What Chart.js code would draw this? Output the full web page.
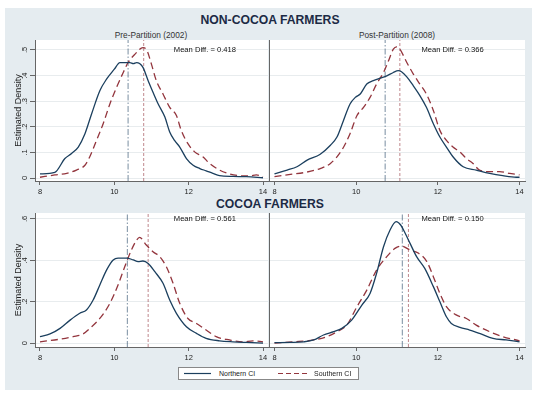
<!DOCTYPE html>
<html>
<head>
<meta charset="utf-8">
<title>Estimated density, Northern vs Southern CI</title>
<script src="https://cdn.jsdelivr.net/npm/chart.js@4.4.1/dist/chart.umd.min.js"></script>
<style>
html,body{margin:0;padding:0;background:#fff;}
body{position:relative;width:540px;height:395px;overflow:hidden;font-family:"Liberation Sans",Arial,sans-serif;color:#222;}
#bg{position:absolute;left:5px;top:8px;width:527px;height:382px;background:#e5ecf0;}
canvas{position:absolute;}
.ttl{position:absolute;left:0;width:540px;text-align:center;font-weight:bold;font-size:12.2px;color:#1c2a45;line-height:16px;}
.sub{position:absolute;width:200px;text-align:center;font-size:8.3px;color:#333;line-height:10px;}
#legend{position:absolute;left:178px;top:367px;width:179px;height:11px;border:1px solid #888;background:#fff;font-size:7px;color:#222;}
#legend span{position:absolute;top:1px;line-height:9px;color:#222;}
#legend svg{position:absolute;left:0;top:0;}
</style>
</head>
<body>
<div id="bg"></div>
<div class="ttl" style="top:12px">NON-COCOA FARMERS</div>
<div class="sub" style="left:51px;top:30px">Pre-Partition (2002)</div>
<div class="sub" style="left:297px;top:30px">Post-Partition (2008)</div>
<div class="ttl" style="top:196px">COCOA FARMERS</div>
<canvas id="c1" width="262" height="160" style="left:8px;top:40px"></canvas>
<canvas id="c2" width="270" height="160" style="left:264px;top:40px"></canvas>
<canvas id="c3" width="262" height="152" style="left:8px;top:213px"></canvas>
<canvas id="c4" width="270" height="152" style="left:264px;top:213px"></canvas>
<div id="legend"></div>
<script>
// axes
const xTicks=[8,10,12,14];
const xMin=7.866, xMax=14.134;
const yTicksNonCocoa=[0,.1,.2,.3,.4,.5];
const yTicksCocoa=[0,.2,.4,.6];
const yRangeNonCocoa=[-0.0117,0.539];
const yRangeCocoa=[-0.019,0.629];
const seriesNames=['Northern CI','Southern CI'];
const colNorth='#1b3f5e', colSouth='#93353d';

// non-cocoa, 2002
const ncPreNorthX=[8.0,8.4,8.67,8.85,9.03,9.21,9.39,9.61,9.79,10.0,10.15,10.42,10.51,10.6,10.68,10.77,10.91,11.04,11.18,11.36,11.49,11.62,11.76,11.94,12.12,12.3,12.47,12.65,12.83,13.19,13.55,14.0];
const ncPreNorthY=[0.016,0.022,0.076,0.096,0.121,0.173,0.251,0.341,0.386,0.425,0.451,0.451,0.447,0.451,0.447,0.432,0.38,0.335,0.289,0.238,0.18,0.147,0.121,0.076,0.05,0.037,0.028,0.018,0.009,0.006,0.005,0.001];
const ncPreSouthX=[8.0,8.4,8.72,8.98,9.21,9.34,9.52,9.7,9.88,10.06,10.24,10.37,10.55,10.77,10.86,11.0,11.13,11.31,11.49,11.67,11.8,11.98,12.16,12.38,12.56,12.83,13.1,13.37,13.64,13.82,14.0];
const ncPreSouthY=[0.003,0.012,0.018,0.031,0.05,0.083,0.147,0.212,0.289,0.354,0.412,0.451,0.483,0.509,0.503,0.444,0.38,0.328,0.276,0.244,0.186,0.134,0.102,0.083,0.057,0.031,0.016,0.009,0.008,0.012,0.005];
// non-cocoa, 2008
const ncPostNorthX=[8.0,8.31,8.55,8.8,9.12,9.37,9.53,9.69,9.85,9.98,10.1,10.26,10.42,10.59,10.75,10.91,11.03,11.11,11.24,11.4,11.56,11.72,11.89,12.05,12.21,12.37,12.62,12.94,13.27,13.59,13.92,14.0];
const ncPostNorthY=[0.016,0.031,0.044,0.07,0.093,0.128,0.16,0.225,0.289,0.315,0.328,0.367,0.38,0.39,0.399,0.412,0.419,0.415,0.395,0.36,0.322,0.276,0.212,0.16,0.121,0.083,0.044,0.031,0.018,0.009,0.003,0.003];
const ncPostSouthX=[8.0,8.39,8.72,9.12,9.37,9.65,9.85,10.02,10.18,10.34,10.5,10.67,10.79,10.91,10.99,11.07,11.24,11.4,11.56,11.72,11.89,12.05,12.21,12.37,12.54,12.7,12.86,13.02,13.27,13.51,13.76,14.0];
const ncPostSouthY=[0.005,0.014,0.021,0.037,0.057,0.109,0.173,0.244,0.276,0.315,0.367,0.412,0.457,0.503,0.512,0.503,0.451,0.406,0.367,0.328,0.264,0.186,0.147,0.121,0.102,0.076,0.057,0.031,0.025,0.025,0.018,0.012];
// cocoa, 2002
const cPreNorthX=[8.0,8.27,8.54,8.81,9.07,9.25,9.43,9.61,9.79,9.97,10.1,10.33,10.51,10.64,10.77,10.91,11.09,11.31,11.49,11.67,11.94,12.21,12.47,12.83,13.19,13.55,14.0];
const cPreNorthY=[0.031,0.044,0.071,0.111,0.144,0.16,0.208,0.281,0.353,0.402,0.411,0.411,0.402,0.394,0.397,0.385,0.345,0.289,0.208,0.144,0.079,0.047,0.023,0.011,0.006,0.003,0.0];
const cPreSouthX=[8.0,8.54,8.89,9.16,9.39,9.61,9.88,10.1,10.28,10.46,10.6,10.68,10.86,11.04,11.22,11.4,11.58,11.76,11.98,12.21,12.47,12.74,13.1,13.46,13.73,14.0];
const cPreSouthY=[0.006,0.019,0.031,0.044,0.079,0.119,0.192,0.281,0.369,0.45,0.498,0.511,0.474,0.442,0.418,0.369,0.289,0.192,0.119,0.095,0.063,0.031,0.015,0.006,0.011,0.006];
// cocoa, 2008
const cPostNorthX=[8.0,8.39,8.72,8.96,9.2,9.45,9.65,9.89,10.14,10.34,10.5,10.67,10.83,10.98,11.09,11.2,11.32,11.48,11.68,11.89,12.05,12.21,12.33,12.54,12.78,13.02,13.35,13.67,14.0];
const cPostNorthY=[0.002,0.003,0.006,0.015,0.039,0.055,0.071,0.111,0.184,0.24,0.337,0.466,0.547,0.587,0.571,0.531,0.482,0.418,0.361,0.273,0.2,0.127,0.095,0.076,0.063,0.047,0.023,0.015,0.006];
const cPostSouthX=[8.0,8.47,8.96,9.28,9.53,9.77,10.02,10.26,10.5,10.75,10.95,11.11,11.32,11.53,11.73,11.89,12.05,12.21,12.46,12.7,12.94,13.27,13.59,14.0];
const cPostSouthY=[0.0,0.006,0.015,0.031,0.055,0.087,0.176,0.256,0.353,0.418,0.458,0.469,0.45,0.434,0.394,0.321,0.24,0.176,0.135,0.119,0.087,0.055,0.031,0.011];

// group means and annotations (panels: nc 2002, nc 2008, c 2002, c 2008)
const meanNorth=[10.37,10.71,10.35,11.13];
const meanSouth=[10.79,11.07,10.91,11.28];
const meanDiffText=['Mean Diff. = 0.418','Mean Diff. = 0.366','Mean Diff. = 0.561','Mean Diff. = 0.150'];
const noteX=11.6;
const noteY=[.5,.5,.6,.6];

Chart.defaults.font.family='"Liberation Sans", Arial, sans-serif';

const pts=(xs,ys)=>xs.map((x,i)=>({x,y:ys[i]}));
const plotBg={id:'plotBg',beforeDraw(c){const a=c.chartArea,ctx=c.ctx;ctx.save();ctx.fillStyle='#fff';ctx.fillRect(a.left,a.top,a.right-a.left,a.bottom-a.top);ctx.restore();}};
const note={id:'note',afterDatasetsDraw(c,args,o){
  if(!o.text)return;const ctx=c.ctx;ctx.save();
  ctx.font='7.6px "Liberation Sans", Arial, sans-serif';ctx.fillStyle='#111';ctx.textAlign='left';ctx.textBaseline='middle';
  ctx.fillText(o.text,c.scales.x.getPixelForValue(o.x),c.scales.y.getPixelForValue(o.y));ctx.restore();}};
const tickFmt=v=>v===0?'0':String(v).replace(/^0/,'');

function curve(xs,ys,color,dash){
  return {data:pts(xs,ys),borderColor:color,borderWidth:1.3,borderDash:dash,pointRadius:0,fill:false,cubicInterpolationMode:'monotone'};
}
function vline(m,range,color,dash){
  return {data:[{x:m,y:range[0]},{x:m,y:range[1]}],borderColor:color,borderWidth:0.7,borderDash:dash,pointRadius:0,fill:false};
}

function panel(id,i,o){
  const r=o.yRange;
  new Chart(document.getElementById(id),{
    type:'line',
    data:{datasets:[
      curve(o.nx,o.ny,colNorth,[]),
      curve(o.sx,o.sy,colSouth,[7,4]),
      vline(meanNorth[i],r,'rgba(27,63,94,0.85)',[6,2,1.5,2]),
      vline(meanSouth[i],r,'rgba(147,53,61,0.85)',[3,2])
    ]},
    options:{
      responsive:false,animation:false,events:[],
      layout:{padding:{left:0,right:o.padRight,top:0,bottom:0}},
      plugins:{legend:{display:false},tooltip:{enabled:false},note:{text:meanDiffText[i],x:noteX,y:noteY[i]}},
      scales:{
        x:{type:'linear',min:xMin,max:xMax,
          afterBuildTicks:s=>{s.ticks=xTicks.map(v=>({value:v}));},
          ticks:{font:{size:7.5},color:'#222',padding:2.5,maxRotation:0,autoSkip:false,callback:v=>String(v)},
          grid:{drawOnChartArea:false,tickLength:4,tickColor:'#666'},
          border:{color:'#666'},
          afterFit:s=>{s.height=o.xH;s.paddingLeft=0;s.paddingRight=0;}},
        y:{type:'linear',min:r[0],max:r[1],
          afterBuildTicks:s=>{s.ticks=o.yTicks.map(v=>({value:v}));},
          ticks:{display:o.left,font:{size:7.5},color:'#222',padding:2,minRotation:90,maxRotation:90,crossAlign:'center',callback:tickFmt},
          title:{display:o.left,text:'Estimated Density',font:{size:9},color:'#222',padding:{top:5,bottom:0}},
          grid:{color:'#e8ecee',drawTicks:o.left,tickLength:5,tickColor:'#666'},
          border:{color:'#666'},
          afterFit:s=>{s.width=o.yW;s.paddingTop=0;s.paddingBottom=0;}}
      }
    },
    plugins:[plotBg,note]
  });
}

panel('c1',0,{nx:ncPreNorthX,ny:ncPreNorthY,sx:ncPreSouthX,sy:ncPreSouthY,yRange:yRangeNonCocoa,yTicks:yTicksNonCocoa,left:true,yW:27,xH:19,padRight:2});
panel('c2',1,{nx:ncPostNorthX,ny:ncPostNorthY,sx:ncPostSouthX,sy:ncPostSouthY,yRange:yRangeNonCocoa,yTicks:yTicksNonCocoa,left:false,yW:5,xH:19,padRight:9});
panel('c3',2,{nx:cPreNorthX,ny:cPreNorthY,sx:cPreSouthX,sy:cPreSouthY,yRange:yRangeCocoa,yTicks:yTicksCocoa,left:true,yW:27,xH:18,padRight:2});
panel('c4',3,{nx:cPostNorthX,ny:cPostNorthY,sx:cPostSouthX,sy:cPostSouthY,yRange:yRangeCocoa,yTicks:yTicksCocoa,left:false,yW:5,xH:18,padRight:9});

// legend
const lg=document.getElementById('legend');
const lgCols=[colNorth,colSouth], lgDash=['','5,3'];
let svg='<svg width="179" height="11">';
seriesNames.forEach((n,k)=>{const x0=k?99:5,x1=k?129:32;svg+=`<line x1="${x0}" y1="5.5" x2="${x1}" y2="5.5" stroke="${lgCols[k]}" stroke-width="1.2" stroke-dasharray="${lgDash[k]}"/>`;});
svg+='</svg>';
lg.innerHTML=svg+seriesNames.map((n,k)=>`<span style="left:${k?135:40}px">${n}</span>`).join('');
</script>
</body>
</html>
